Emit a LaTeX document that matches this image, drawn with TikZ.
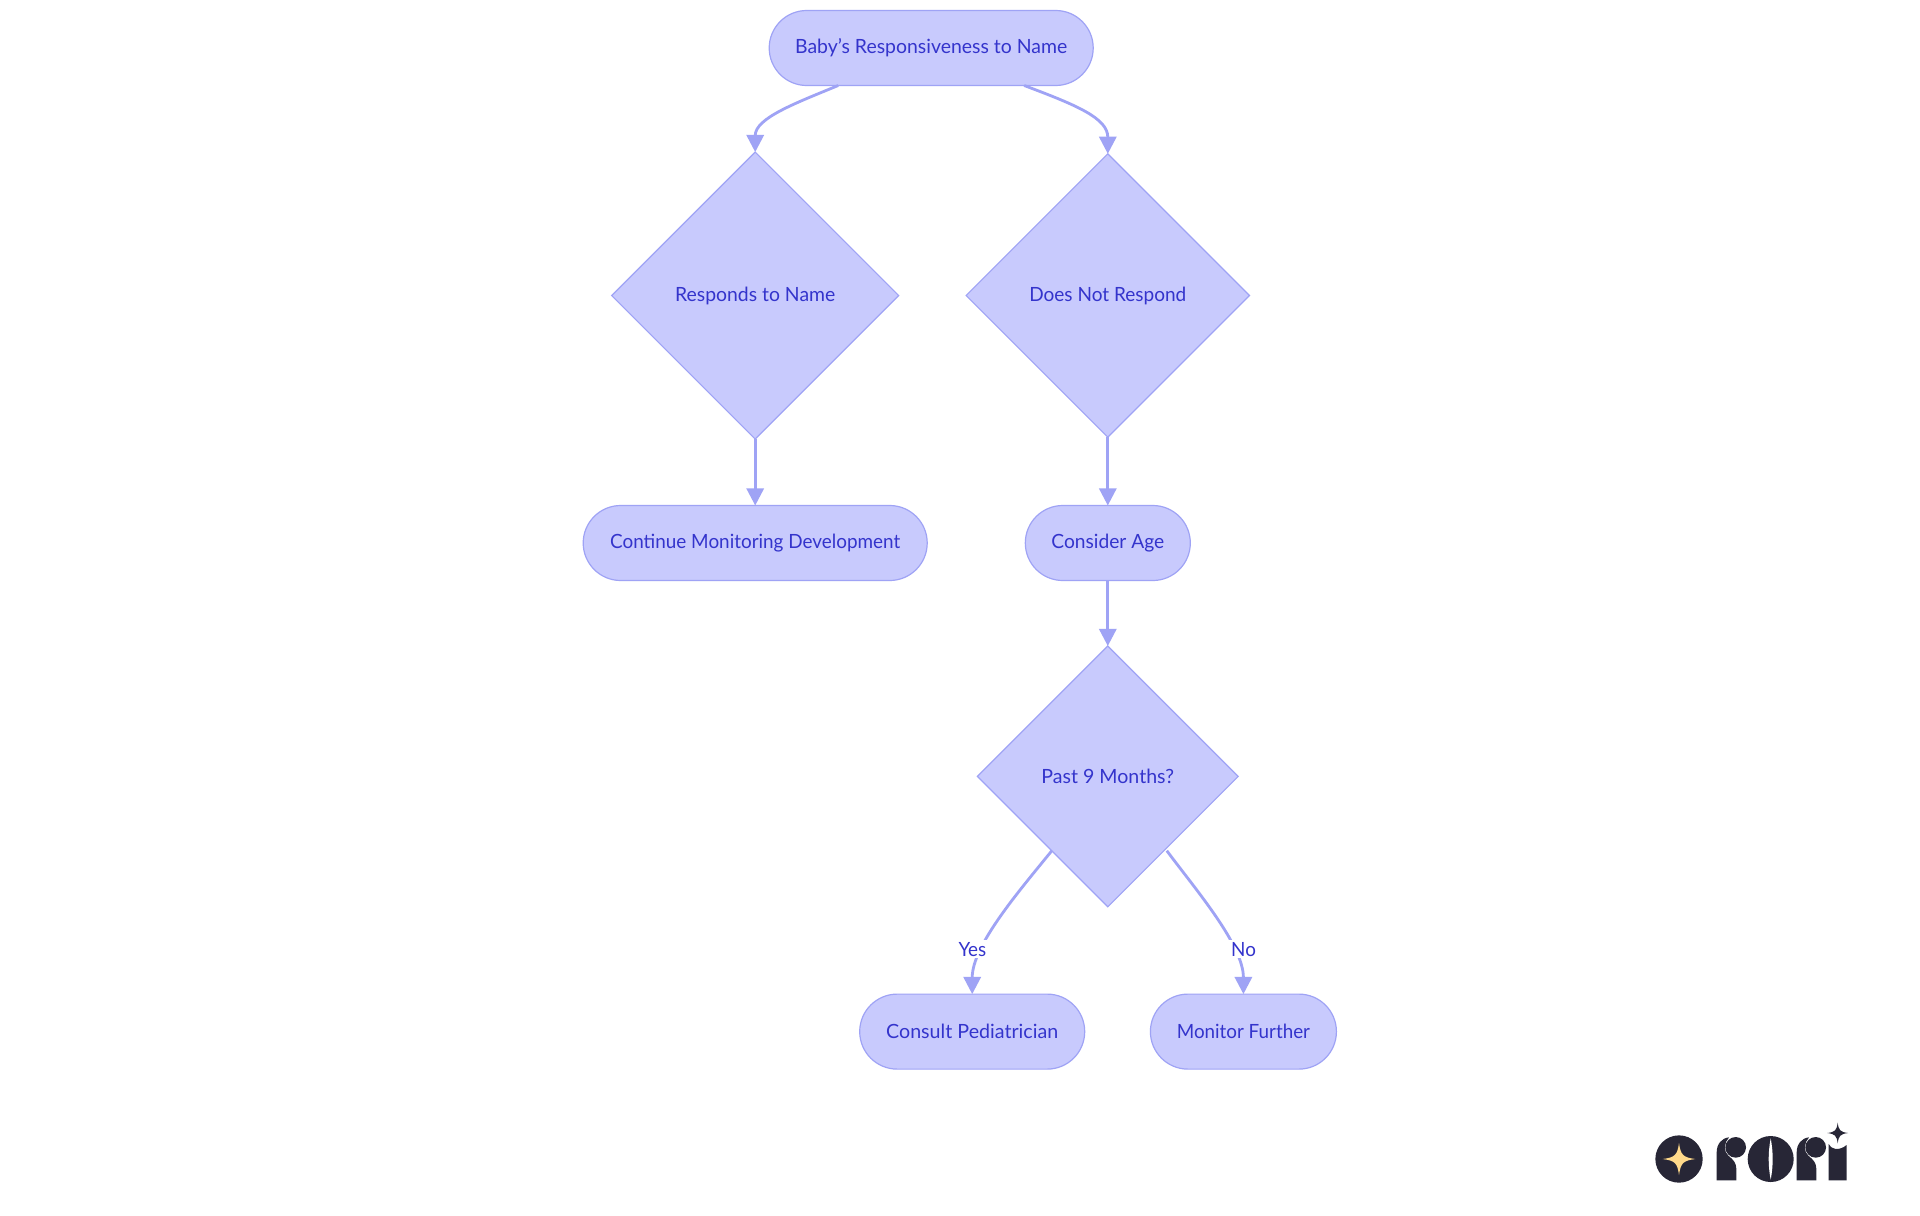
\documentclass[tikz,border=0pt]{standalone}
\usepackage{fontspec}
\setmainfont[FakeStretch=0.96]{Lato}
\usetikzlibrary{shapes.geometric,shapes.misc,arrows.meta}
\definecolor{nodefill}{HTML}{C8CAFD}
\definecolor{nodeline}{HTML}{9FA3F5}
\definecolor{nodetext}{HTML}{3434CC}
\definecolor{logodark}{HTML}{272636}
\definecolor{logostar}{HTML}{FFD98A}
\tikzset{
  base/.style={draw=nodeline,fill=nodefill,text=nodetext,line width=0.6pt,inner sep=0pt,outer sep=0pt,font=\fontsize{9.8}{12}\selectfont},
  pill/.style={base,rounded rectangle,minimum height=37.5pt},
  choice/.style={base,diamond,aspect=1},
  link/.style={draw=nodeline,line width=1.4pt,-{Triangle[length=8.6pt,width=8.6pt]}},
  edgelabel/.style={fill=white,text=nodetext,inner sep=1pt,font=\fontsize{9.8}{12}\selectfont},
}
\newcommand{\lbl}[3]{\raisebox{#2}{\scalebox{#1}[1]{#3}}}
\newcommand{\fourstar}[4]{% cx cy rx ry
  \fill (#1-#3,#2) .. controls (#1-0.25*#3,#2-0.1*#4) and (#1-0.1*#3,#2-0.25*#4) .. (#1,#2-#4)
   .. controls (#1+0.1*#3,#2-0.25*#4) and (#1+0.25*#3,#2-0.1*#4) .. (#1+#3,#2)
   .. controls (#1+0.25*#3,#2+0.1*#4) and (#1+0.1*#3,#2+0.25*#4) .. (#1,#2+#4)
   .. controls (#1-0.1*#3,#2+0.25*#4) and (#1-0.25*#3,#2+0.1*#4) .. cycle;}
\begin{document}
\begin{tikzpicture}[x=0.5pt,y=-0.5pt]
\fill[white] (0,0) rectangle (1920,1215);
\useasboundingbox (0,0) rectangle (1920,1215);
% nodes
\node[pill,minimum width=162pt] (top) at (931.2,48) {\lbl{1.033}{-0.4pt}{Baby's Responsiveness to Name}};
\node[choice,minimum width=143.5pt,minimum height=143.5pt] (d1) at (755.2,295.6) {\lbl{1.03}{-0.4pt}{Responds to Name}};
\node[choice,minimum width=141.7pt,minimum height=141.7pt] (d2) at (1107.8,295.5) {\lbl{1.01}{-0.4pt}{Does Not Respond}};
\node[pill,minimum width=172pt] (cont) at (755.2,543) {\lbl{1.004}{-0.8pt}{Continue Monitoring Development}};
\node[pill,minimum width=82.5pt] (age) at (1107.8,543) {\lbl{1.02}{-0.8pt}{Consider Age}};
\node[choice,minimum width=130.4pt,minimum height=130.4pt] (d3) at (1107.8,776.4) {\lbl{1.04}{0.3pt}{Past 9 Months?}};
\node[pill,minimum width=112.5pt] (ped) at (972.2,1031.6) {\lbl{1.045}{0.3pt}{Consult Pediatrician}};
\node[pill,minimum width=93pt] (mon) at (1243.4,1031.6) {\lbl{1}{0.3pt}{Monitor Further}};
% connector ends
\coordinate (topl) at ([xshift=-46.5pt]top.south);
\coordinate (topr) at ([xshift=46.5pt]top.south);
\coordinate (d3l) at ([shift={(-56,74.3)}]d3.center);
\coordinate (d3r) at ([shift={(59,74.3)}]d3.center);
% connectors
\draw[link] (topl) .. controls (796,103) and (755.2,118) .. (d1.north);
\draw[link] (topr) .. controls (1076,105) and (1107.8,118) .. (d2.north);
\draw[link] (d1.south) -- (cont.north);
\draw[link] (d2.south) -- (age.north);
\draw[link] (age.south) -- (d3.north);
\draw[link] (d3l) .. controls (1020,890) and (972.2,945) .. (ped.north);
\draw[link] (d3r) .. controls (1196,890) and (1243.4,945) .. (mon.north);
\node[edgelabel] (yes) at (972.4,949.3) {Yes};
\node[edgelabel] (no) at (1243.6,949.3) {No};
% logo
\begin{scope}[shift={(1620,1089)},x=0.16667pt,y=-0.16667pt]
\fill[logodark] (177,210) circle[radius=71];
\begin{scope}[logostar]\fourstar{177}{210}{49}{48}\end{scope}
% r
\fill[logodark] (290,274) -- (290,190) .. controls (290,165) and (305,147) .. (327,145)
  .. controls (312,160) and (310,188) .. (325,200) .. controls (340,212) and (349,222) .. (349,240) -- (349,274) -- cycle;
\fill[logodark] (347,175) circle[radius=31];
% o
\fill[logodark] (452,210) circle[radius=69];
\fill[white] (452,148) .. controls (444,190) and (444,230) .. (452,272) .. controls (460,230) and (460,190) .. (452,148) -- cycle;
% r
\fill[logodark] (530,274) -- (530,190) .. controls (530,165) and (545,147) .. (567,145)
  .. controls (552,160) and (550,188) .. (565,200) .. controls (580,212) and (589,222) .. (589,240) -- (589,274) -- cycle;
\fill[logodark] (587,175) circle[radius=31];
% i
\fill[logodark] (626,274) -- (626,165) .. controls (632,180) and (655,188) .. (680,168) -- (680,274) -- cycle;
\begin{scope}[logodark]\fourstar{653}{132}{31}{31}\end{scope}
\end{scope}
\end{tikzpicture}
\end{document}
